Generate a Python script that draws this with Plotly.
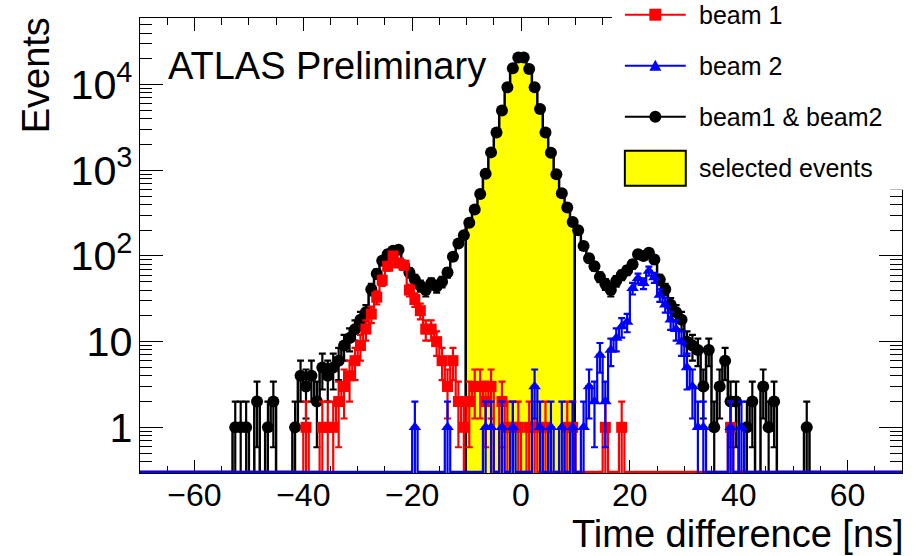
import math
import plotly.graph_objects as go

# ---------------- data (1 ns bins, bin centres) ----------------
X_RANGE = [-70, 70]
Y_RANGE = [0.293, 6.0e4]
SEL_RANGE = [-10, 10]
BIN_W = 1.0

black_t = [-52.5, -51.5, -50.5, -48.5, -46.5, -45.5, -41.5, -40.5, -39.5, -38.5,
           -37.5, -36.5, -35.5, -34.5, -33.5, -32.5, -31.5, -30.5, -29.5, -28.5,
           -27.5, -26.5, -25.5, -24.5, -23.5, -22.5, -21.5, -20.5, -19.5, -18.5,
           -17.5, -16.5, -15.5, -14.5, -13.5, -12.5, -11.5, -10.5, -9.5, -8.5,
           -7.5, -6.5, -5.5, -4.5, -3.5, -2.5, -1.5, -0.5, 0.5, 1.5,
           2.5, 3.5, 4.5, 5.5, 6.5, 7.5, 8.5, 9.5, 10.5, 11.5,
           12.5, 13.5, 14.5, 15.5, 16.5, 17.5, 18.5, 19.5, 20.5, 21.5,
           22.5, 23.5, 24.5, 25.5, 26.5, 27.5, 28.5, 29.5, 30.5, 31.5,
           32.5, 33.5, 34.5, 35.5, 36.5, 37.5, 38.5, 39.5, 41.5, 42.5,
           44.5, 45.5, 46.5, 52.5]
black_n = [1, 1, 1, 2, 1, 2, 1, 4, 3, 4,
           2, 5, 4, 5, 6, 9, 11, 14, 18, 22,
           41, 62, 88, 105, 115, 118, 78, 64, 53, 45,
           40, 48, 44, 50, 64, 98, 140, 175, 245, 350,
           530, 910, 1620, 2770, 5000, 9300, 15500, 20700, 20700, 15200,
           9300, 5200, 2770, 1600, 900, 540, 368, 250, 200, 131,
           94, 76, 57, 47, 40, 51, 60, 68, 80, 105,
           100, 109, 91, 53, 41, 27, 22, 18, 10, 9,
           8, 3, 8, 1, 3, 6, 2, 2, 1, 2,
           3, 1, 2, 1]

red_t = [-39.5, -36.5, -35.5, -34.5, -33.5, -32.5, -31.5, -30.5, -29.5, -28.5,
         -27.5, -26.5, -25.5, -24.5, -23.5, -22.5, -21.5, -20.5, -19.5, -18.5,
         -17.5, -16.5, -15.5, -14.5, -13.5, -12.5, -11.5, -10.5, -9.5, -8.5,
         -7.5, -6.5, -5.5, -3.5, -2.5, -1.5, -0.5, 1.5, 2.5, 4.5,
         8.5, 9.5, 15.5, 18.5, 38.5]
red_n = [1, 1, 1, 1, 2, 3, 4, 6, 9, 14,
         21, 33, 52, 76, 100, 83, 78, 40, 31, 23,
         14, 14, 10, 6, 3, 6, 2, 1, 2, 3,
         3, 2, 3, 2, 1, 1, 1, 1, 1, 1,
         1, 1, 1, 1, 1]

blue_t = [-19.5, -13.5, -6.5, -5.5, -3.5, -1.5, 2.5, 3.5, 5.5, 7.5,
          9.5, 11.5, 12.5, 13.5, 14.5, 15.5, 16.5, 17.5, 18.5, 19.5,
          20.5, 21.5, 22.5, 23.5, 24.5, 25.5, 26.5, 27.5, 28.5, 29.5,
          30.5, 31.5, 32.5, 33.5, 38.5, 40.5]
blue_n = [1, 1, 1, 1, 1, 1, 3, 1, 1, 1,
          1, 1, 3, 2, 7, 2, 8, 11, 15, 17,
          42, 55, 48, 67, 56, 35, 27, 18, 14, 10,
          5, 3, 1, 1, 1, 1]

legend_labels = ["beam 1", "beam 2", "beam1 & beam2", "selected events"]

FONT = "Liberation Sans, Arial, Helvetica, sans-serif"
BLACK, RED, BLUE, YELLOW = "#000000", "#ff0000", "#0000ff", "#ffff00"

# ---------------- geometry helpers ----------------
W, H = 914, 556
ML, MR, MT, MB = 139.5, 11.5, 18.3, 82.7
PW, PH = W - ML - MR, H - MT - MB


def px2x(px):
    return (px - ML) / PW


def py2y(py):
    return (H - MB - py) / PH


def full_hist(ts, ns):
    lut = dict(zip(ts, ns))
    nb = int(round((X_RANGE[1] - X_RANGE[0]) / BIN_W))
    centers = [X_RANGE[0] + BIN_W * (i + 0.5) for i in range(nb)]
    floor = 10 ** (math.log10(Y_RANGE[0]) + 0.012)
    ys = [lut.get(c, 0) for c in centers]
    ys = [v if v > 0 else floor for v in ys]
    xs = [X_RANGE[0]] + centers + [X_RANGE[1]]
    ys = [ys[0]] + ys + [ys[-1]]
    return xs, ys


fig = go.Figure()

# selected events (yellow)
sel_t = [t for t in black_t if SEL_RANGE[0] < t < SEL_RANGE[1]]
sel_n = [n for t, n in zip(black_t, black_n) if SEL_RANGE[0] < t < SEL_RANGE[1]]
fig.add_trace(go.Bar(x=sel_t, y=sel_n, width=BIN_W, marker=dict(color=YELLOW, line=dict(width=0)),
                     showlegend=False, hoverinfo="skip"))
fig.add_trace(go.Bar(x=SEL_RANGE, y=[sel_n[0], sel_n[-1]], width=0.05,
                     marker=dict(color=BLACK, line=dict(width=1.6, color=BLACK)),
                     showlegend=False, hoverinfo="skip"))


def add_series(ts, ns, color, symbol, size, lw):
    xs, ys = full_hist(ts, ns)
    fig.add_trace(go.Scatter(x=xs, y=ys, mode="lines", line=dict(color=color, width=lw, shape="hvh"),
                             showlegend=False, hoverinfo="skip"))
    err = [math.sqrt(n) for n in ns]
    fig.add_trace(go.Scatter(x=ts, y=ns, mode="markers",
                             marker=dict(symbol=symbol, size=size, color=color, line=dict(width=0)),
                             error_y=dict(type="data", array=err, arrayminus=err, color=color,
                                          thickness=2.2, width=3.5),
                             showlegend=False))


add_series(black_t, black_n, BLACK, "circle", 12, 2.5)
add_series(red_t, red_n, RED, "square", 11, 2.2)
add_series(blue_t, blue_n, BLUE, "triangle-up", 11, 2.2)

# ---------------- legend (drawn) ----------------
shapes = []
annotations = []
shapes.append(dict(type="rect", xref="paper", yref="paper", x0=px2x(612), x1=px2x(W + 5),
                   y0=py2y(190), y1=py2y(-5), fillcolor="white", line=dict(width=0), layer="above"))
leg_y = [15, 66, 117, 168]
leg_col = [RED, BLUE, BLACK]
lx0, lx1, lxm = 625, 686, 655.5
for i, col in enumerate(leg_col):
    yc = leg_y[i]
    shapes.append(dict(type="line", xref="paper", yref="paper", x0=px2x(lx0), x1=px2x(lx1),
                       y0=py2y(yc), y1=py2y(yc), line=dict(color=col, width=2), layer="above"))
s = 6
shapes.append(dict(type="rect", xref="paper", yref="paper", x0=px2x(lxm - s), x1=px2x(lxm + s),
                   y0=py2y(leg_y[0] + s), y1=py2y(leg_y[0] - s), fillcolor=RED, line=dict(width=0),
                   layer="above"))
yc = leg_y[1]
shapes.append(dict(type="path", xref="paper", yref="paper",
                   path="M {},{} L {},{} L {},{} Z".format(px2x(lxm - 6), py2y(yc + 5),
                                                         px2x(lxm + 6), py2y(yc + 5),
                                                         px2x(lxm), py2y(yc - 6)),
                   fillcolor=BLUE, line=dict(width=0), layer="above"))
yc = leg_y[2]
shapes.append(dict(type="circle", xref="paper", yref="paper", x0=px2x(lxm - 6), x1=px2x(lxm + 6),
                   y0=py2y(yc + 6), y1=py2y(yc - 6), fillcolor=BLACK, line=dict(width=0),
                   layer="above"))
shapes.append(dict(type="rect", xref="paper", yref="paper", x0=px2x(lx0), x1=px2x(lx1),
                   y0=py2y(186), y1=py2y(151), fillcolor=YELLOW, line=dict(color=BLACK, width=2),
                   layer="above"))
for lab, yc in zip(legend_labels, leg_y):
    annotations.append(dict(text=lab, xref="paper", yref="paper", x=px2x(697), y=py2y(yc),
                            xanchor="left", yanchor="middle", showarrow=False,
                            font=dict(family=FONT, size=25, color=BLACK)))

annotations.append(dict(text="ATLAS Preliminary", xref="paper", yref="paper", x=px2x(166), y=py2y(66),
                        xanchor="left", yanchor="middle", showarrow=False,
                        font=dict(family=FONT, size=38, color=BLACK)))
annotations.append(dict(text="Events", xref="paper", yref="paper", x=px2x(35), y=py2y(16),
                        xanchor="center", yanchor="top", textangle=-90, showarrow=False,
                        font=dict(family=FONT, size=38, color=BLACK)))
annotations.append(dict(text="Time difference [ns]", xref="paper", yref="paper", x=1, xshift=4,
                        y=py2y(534), xanchor="right", yanchor="middle", showarrow=False,
                        font=dict(family=FONT, size=38, color=BLACK)))

fig.update_layout(
    width=W, height=H, autosize=False,
    margin=dict(l=ML, r=MR, t=MT, b=MB, pad=0),
    paper_bgcolor="white", plot_bgcolor="white",
    barmode="overlay", bargap=0,
    shapes=shapes, annotations=annotations,
    showlegend=False,
    font=dict(family=FONT, color=BLACK),
)
fig.update_xaxes(range=X_RANGE, showgrid=False, zeroline=False, showline=True, linecolor=BLACK,
                 linewidth=1, mirror="ticks", ticks="inside", ticklen=13, tickcolor=BLACK,
                 tickmode="linear", tick0=-60, dtick=20, layer="below traces",
                 ticklabelstandoff=-6,
                 tickfont=dict(family=FONT, size=32, color=BLACK),
                 minor=dict(ticks="inside", ticklen=7, tickcolor=BLACK, dtick=5, tick0=0, showgrid=False))
fig.update_yaxes(type="log", range=[math.log10(Y_RANGE[0]), math.log10(Y_RANGE[1])], showgrid=False,
                 zeroline=False, showline=True, linecolor=BLACK, linewidth=1, mirror="ticks",
                 ticks="inside", ticklen=23, tickcolor=BLACK, dtick=1, exponentformat="power",
                 tickfont=dict(family=FONT, size=33, color=BLACK),
                 minor=dict(ticks="inside", ticklen=12, tickcolor=BLACK, dtick="D1", showgrid=False))

fig.write_html("out.html")
